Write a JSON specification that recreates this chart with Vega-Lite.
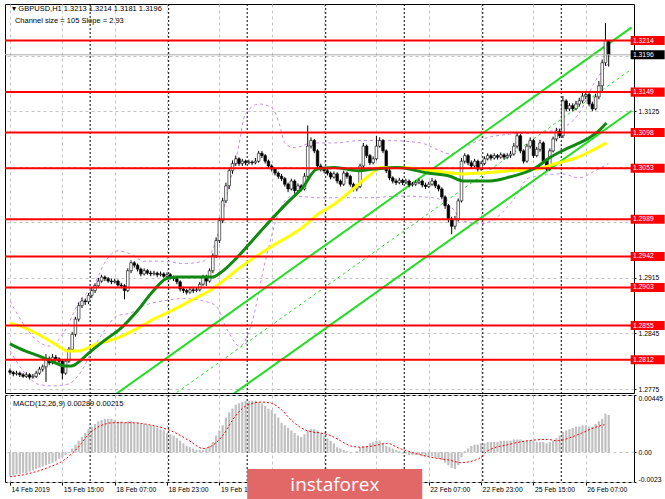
{
"$schema": "https://vega.github.io/schema/vega-lite/v6.json",
"background": "#ffffff",
"padding": {"left": 3, "top": 3, "right": 0, "bottom": 0},
"autosize": {"type": "pad"},
"spacing": 0,
"config": {
  "view": {"stroke": "#000000", "strokeWidth": 1},
  "font": "Liberation Sans",
  "axis": {"domain": false, "gridColor": "#c4c4c4", "gridDash": [3, 3], "gridWidth": 1, "tickColor": "#000000", "labelColor": "#000000", "labelFont": "Liberation Sans", "labelFontSize": 6.8, "minExtent": 0, "labelOverlap": false}
},
"datasets": {
  "one": [{}],
  "candles": [
{"i":0,"o":1.2798,"h":1.2801,"l":1.2793,"c":1.2796},
{"i":1,"o":1.2796,"h":1.2798,"l":1.2791,"c":1.2794},
{"i":2,"o":1.2794,"h":1.2798,"l":1.2792,"c":1.2795},
{"i":3,"o":1.2795,"h":1.2797,"l":1.2790,"c":1.2793},
{"i":4,"o":1.2793,"h":1.2795,"l":1.2789,"c":1.2791},
{"i":5,"o":1.2791,"h":1.2796,"l":1.2789,"c":1.2793},
{"i":6,"o":1.2793,"h":1.2795,"l":1.2787,"c":1.2790},
{"i":7,"o":1.2790,"h":1.2794,"l":1.2788,"c":1.2791},
{"i":8,"o":1.2791,"h":1.2798,"l":1.2789,"c":1.2795},
{"i":9,"o":1.2795,"h":1.2803,"l":1.2793,"c":1.2800},
{"i":10,"o":1.2800,"h":1.2806,"l":1.2797,"c":1.2803},
{"i":11,"o":1.2803,"h":1.2819,"l":1.2784,"c":1.2813},
{"i":12,"o":1.2813,"h":1.2816,"l":1.2805,"c":1.2808},
{"i":13,"o":1.2808,"h":1.2819,"l":1.2806,"c":1.2815},
{"i":14,"o":1.2815,"h":1.2818,"l":1.2810,"c":1.2813},
{"i":15,"o":1.2813,"h":1.2815,"l":1.2807,"c":1.2810},
{"i":16,"o":1.2810,"h":1.2812,"l":1.2787,"c":1.2795},
{"i":17,"o":1.2795,"h":1.2813,"l":1.2793,"c":1.2810},
{"i":18,"o":1.2810,"h":1.2828,"l":1.2808,"c":1.2825},
{"i":19,"o":1.2825,"h":1.2847,"l":1.2823,"c":1.2844},
{"i":20,"o":1.2844,"h":1.2866,"l":1.2841,"c":1.2863},
{"i":21,"o":1.2863,"h":1.2884,"l":1.2860,"c":1.2880},
{"i":22,"o":1.2880,"h":1.2890,"l":1.2877,"c":1.2886},
{"i":23,"o":1.2886,"h":1.2889,"l":1.2881,"c":1.2885},
{"i":24,"o":1.2885,"h":1.2896,"l":1.2882,"c":1.2893},
{"i":25,"o":1.2893,"h":1.2902,"l":1.2890,"c":1.2899},
{"i":26,"o":1.2899,"h":1.2908,"l":1.2896,"c":1.2905},
{"i":27,"o":1.2905,"h":1.2915,"l":1.2903,"c":1.2911},
{"i":28,"o":1.2911,"h":1.2919,"l":1.2909,"c":1.2916},
{"i":29,"o":1.2916,"h":1.2918,"l":1.2911,"c":1.2914},
{"i":30,"o":1.2914,"h":1.2916,"l":1.2909,"c":1.2911},
{"i":31,"o":1.2911,"h":1.2914,"l":1.2907,"c":1.2910},
{"i":32,"o":1.2910,"h":1.2914,"l":1.2908,"c":1.2911},
{"i":33,"o":1.2911,"h":1.2913,"l":1.2904,"c":1.2906},
{"i":34,"o":1.2906,"h":1.2909,"l":1.2902,"c":1.2905},
{"i":35,"o":1.2905,"h":1.2907,"l":1.2888,"c":1.2899},
{"i":36,"o":1.2899,"h":1.2927,"l":1.2897,"c":1.2924},
{"i":37,"o":1.2924,"h":1.2937,"l":1.2921,"c":1.2934},
{"i":38,"o":1.2934,"h":1.2936,"l":1.2928,"c":1.2931},
{"i":39,"o":1.2931,"h":1.2933,"l":1.2923,"c":1.2926},
{"i":40,"o":1.2926,"h":1.2928,"l":1.2917,"c":1.2920},
{"i":41,"o":1.2920,"h":1.2927,"l":1.2918,"c":1.2924},
{"i":42,"o":1.2924,"h":1.2926,"l":1.2919,"c":1.2921},
{"i":43,"o":1.2921,"h":1.2924,"l":1.2917,"c":1.2920},
{"i":44,"o":1.2920,"h":1.2924,"l":1.2918,"c":1.2921},
{"i":45,"o":1.2921,"h":1.2923,"l":1.2916,"c":1.2919},
{"i":46,"o":1.2919,"h":1.2923,"l":1.2917,"c":1.2920},
{"i":47,"o":1.2920,"h":1.2922,"l":1.2915,"c":1.2917},
{"i":48,"o":1.2917,"h":1.2922,"l":1.2915,"c":1.2919},
{"i":49,"o":1.2919,"h":1.2921,"l":1.2913,"c":1.2916},
{"i":50,"o":1.2916,"h":1.2918,"l":1.2911,"c":1.2914},
{"i":51,"o":1.2914,"h":1.2916,"l":1.2907,"c":1.2910},
{"i":52,"o":1.2910,"h":1.2912,"l":1.2898,"c":1.2901},
{"i":53,"o":1.2901,"h":1.2904,"l":1.2896,"c":1.2899},
{"i":54,"o":1.2899,"h":1.2901,"l":1.2894,"c":1.2897},
{"i":55,"o":1.2897,"h":1.2903,"l":1.2895,"c":1.2900},
{"i":56,"o":1.2900,"h":1.2903,"l":1.2896,"c":1.2899},
{"i":57,"o":1.2899,"h":1.2903,"l":1.2897,"c":1.2900},
{"i":58,"o":1.2900,"h":1.2910,"l":1.2898,"c":1.2907},
{"i":59,"o":1.2907,"h":1.2919,"l":1.2905,"c":1.2916},
{"i":60,"o":1.2916,"h":1.2919,"l":1.2905,"c":1.2911},
{"i":61,"o":1.2911,"h":1.2927,"l":1.2909,"c":1.2924},
{"i":62,"o":1.2924,"h":1.2946,"l":1.2921,"c":1.2943},
{"i":63,"o":1.2943,"h":1.2966,"l":1.2940,"c":1.2962},
{"i":64,"o":1.2962,"h":1.2991,"l":1.2959,"c":1.2987},
{"i":65,"o":1.2987,"h":1.3016,"l":1.2984,"c":1.3012},
{"i":66,"o":1.3012,"h":1.3035,"l":1.3009,"c":1.3031},
{"i":67,"o":1.3031,"h":1.3054,"l":1.3027,"c":1.3050},
{"i":68,"o":1.3050,"h":1.3063,"l":1.3046,"c":1.3059},
{"i":69,"o":1.3059,"h":1.3069,"l":1.3056,"c":1.3065},
{"i":70,"o":1.3065,"h":1.3067,"l":1.3056,"c":1.3059},
{"i":71,"o":1.3059,"h":1.3065,"l":1.3056,"c":1.3062},
{"i":72,"o":1.3062,"h":1.3064,"l":1.3057,"c":1.3060},
{"i":73,"o":1.3060,"h":1.3064,"l":1.3058,"c":1.3061},
{"i":74,"o":1.3061,"h":1.3063,"l":1.3057,"c":1.3060},
{"i":75,"o":1.3060,"h":1.3066,"l":1.3058,"c":1.3062},
{"i":76,"o":1.3062,"h":1.3075,"l":1.3060,"c":1.3072},
{"i":77,"o":1.3072,"h":1.3075,"l":1.3066,"c":1.3069},
{"i":78,"o":1.3069,"h":1.3071,"l":1.3059,"c":1.3062},
{"i":79,"o":1.3062,"h":1.3064,"l":1.3053,"c":1.3056},
{"i":80,"o":1.3056,"h":1.3058,"l":1.3049,"c":1.3052},
{"i":81,"o":1.3052,"h":1.3054,"l":1.3044,"c":1.3047},
{"i":82,"o":1.3047,"h":1.3049,"l":1.3040,"c":1.3043},
{"i":83,"o":1.3043,"h":1.3046,"l":1.3037,"c":1.3040},
{"i":84,"o":1.3040,"h":1.3042,"l":1.3030,"c":1.3033},
{"i":85,"o":1.3033,"h":1.3035,"l":1.3023,"c":1.3027},
{"i":86,"o":1.3027,"h":1.3040,"l":1.3025,"c":1.3037},
{"i":87,"o":1.3037,"h":1.3039,"l":1.3021,"c":1.3025},
{"i":88,"o":1.3025,"h":1.3034,"l":1.3022,"c":1.3031},
{"i":89,"o":1.3031,"h":1.3033,"l":1.3024,"c":1.3027},
{"i":90,"o":1.3027,"h":1.3047,"l":1.3025,"c":1.3043},
{"i":91,"o":1.3043,"h":1.3107,"l":1.3041,"c":1.3081},
{"i":92,"o":1.3081,"h":1.3092,"l":1.3078,"c":1.3088},
{"i":93,"o":1.3088,"h":1.3090,"l":1.3072,"c":1.3075},
{"i":94,"o":1.3075,"h":1.3077,"l":1.3053,"c":1.3056},
{"i":95,"o":1.3056,"h":1.3059,"l":1.3049,"c":1.3052},
{"i":96,"o":1.3052,"h":1.3055,"l":1.3047,"c":1.3050},
{"i":97,"o":1.3050,"h":1.3053,"l":1.3044,"c":1.3047},
{"i":98,"o":1.3047,"h":1.3049,"l":1.3039,"c":1.3042},
{"i":99,"o":1.3042,"h":1.3049,"l":1.3040,"c":1.3046},
{"i":100,"o":1.3046,"h":1.3048,"l":1.3034,"c":1.3037},
{"i":101,"o":1.3037,"h":1.3039,"l":1.3030,"c":1.3033},
{"i":102,"o":1.3033,"h":1.3050,"l":1.3031,"c":1.3047},
{"i":103,"o":1.3047,"h":1.3049,"l":1.3040,"c":1.3043},
{"i":104,"o":1.3043,"h":1.3045,"l":1.3030,"c":1.3033},
{"i":105,"o":1.3033,"h":1.3035,"l":1.3024,"c":1.3027},
{"i":106,"o":1.3027,"h":1.3033,"l":1.3024,"c":1.3030},
{"i":107,"o":1.3030,"h":1.3059,"l":1.3028,"c":1.3056},
{"i":108,"o":1.3056,"h":1.3085,"l":1.3053,"c":1.3081},
{"i":109,"o":1.3081,"h":1.3083,"l":1.3066,"c":1.3069},
{"i":110,"o":1.3069,"h":1.3071,"l":1.3057,"c":1.3060},
{"i":111,"o":1.3060,"h":1.3068,"l":1.3058,"c":1.3065},
{"i":112,"o":1.3065,"h":1.3094,"l":1.3063,"c":1.3081},
{"i":113,"o":1.3081,"h":1.3092,"l":1.3079,"c":1.3088},
{"i":114,"o":1.3088,"h":1.3090,"l":1.3072,"c":1.3075},
{"i":115,"o":1.3075,"h":1.3077,"l":1.3047,"c":1.3050},
{"i":116,"o":1.3050,"h":1.3053,"l":1.3038,"c":1.3041},
{"i":117,"o":1.3041,"h":1.3043,"l":1.3034,"c":1.3037},
{"i":118,"o":1.3037,"h":1.3040,"l":1.3032,"c":1.3035},
{"i":119,"o":1.3035,"h":1.3041,"l":1.3033,"c":1.3038},
{"i":120,"o":1.3038,"h":1.3040,"l":1.3032,"c":1.3035},
{"i":121,"o":1.3035,"h":1.3040,"l":1.3033,"c":1.3037},
{"i":122,"o":1.3037,"h":1.3039,"l":1.3029,"c":1.3032},
{"i":123,"o":1.3032,"h":1.3036,"l":1.3030,"c":1.3033},
{"i":124,"o":1.3033,"h":1.3038,"l":1.3031,"c":1.3035},
{"i":125,"o":1.3035,"h":1.3040,"l":1.3033,"c":1.3037},
{"i":126,"o":1.3037,"h":1.3039,"l":1.3029,"c":1.3032},
{"i":127,"o":1.3032,"h":1.3035,"l":1.3027,"c":1.3030},
{"i":128,"o":1.3030,"h":1.3036,"l":1.3028,"c":1.3033},
{"i":129,"o":1.3033,"h":1.3041,"l":1.3031,"c":1.3037},
{"i":130,"o":1.3037,"h":1.3039,"l":1.3028,"c":1.3031},
{"i":131,"o":1.3031,"h":1.3033,"l":1.3024,"c":1.3027},
{"i":132,"o":1.3027,"h":1.3029,"l":1.3014,"c":1.3017},
{"i":133,"o":1.3017,"h":1.3019,"l":1.3002,"c":1.3006},
{"i":134,"o":1.3006,"h":1.3008,"l":1.2985,"c":1.2989},
{"i":135,"o":1.2989,"h":1.2992,"l":1.2970,"c":1.2980},
{"i":136,"o":1.2980,"h":1.2993,"l":1.2976,"c":1.2989},
{"i":137,"o":1.2989,"h":1.3015,"l":1.2986,"c":1.3012},
{"i":138,"o":1.3012,"h":1.3066,"l":1.3010,"c":1.3062},
{"i":139,"o":1.3062,"h":1.3072,"l":1.3059,"c":1.3069},
{"i":140,"o":1.3069,"h":1.3071,"l":1.3057,"c":1.3060},
{"i":141,"o":1.3060,"h":1.3063,"l":1.3053,"c":1.3056},
{"i":142,"o":1.3056,"h":1.3065,"l":1.3054,"c":1.3062},
{"i":143,"o":1.3062,"h":1.3064,"l":1.3049,"c":1.3052},
{"i":144,"o":1.3052,"h":1.3062,"l":1.3050,"c":1.3059},
{"i":145,"o":1.3059,"h":1.3068,"l":1.3057,"c":1.3065},
{"i":146,"o":1.3065,"h":1.3072,"l":1.3063,"c":1.3069},
{"i":147,"o":1.3069,"h":1.3071,"l":1.3063,"c":1.3066},
{"i":148,"o":1.3066,"h":1.3072,"l":1.3064,"c":1.3069},
{"i":149,"o":1.3069,"h":1.3071,"l":1.3064,"c":1.3067},
{"i":150,"o":1.3067,"h":1.3073,"l":1.3065,"c":1.3070},
{"i":151,"o":1.3070,"h":1.3072,"l":1.3064,"c":1.3067},
{"i":152,"o":1.3067,"h":1.3072,"l":1.3065,"c":1.3069},
{"i":153,"o":1.3069,"h":1.3075,"l":1.3066,"c":1.3071},
{"i":154,"o":1.3071,"h":1.3085,"l":1.3069,"c":1.3081},
{"i":155,"o":1.3081,"h":1.3098,"l":1.3078,"c":1.3094},
{"i":156,"o":1.3094,"h":1.3096,"l":1.3072,"c":1.3075},
{"i":157,"o":1.3075,"h":1.3077,"l":1.3059,"c":1.3062},
{"i":158,"o":1.3062,"h":1.3084,"l":1.3060,"c":1.3081},
{"i":159,"o":1.3081,"h":1.3092,"l":1.3078,"c":1.3088},
{"i":160,"o":1.3088,"h":1.3090,"l":1.3066,"c":1.3069},
{"i":161,"o":1.3069,"h":1.3080,"l":1.3067,"c":1.3077},
{"i":162,"o":1.3077,"h":1.3089,"l":1.3074,"c":1.3085},
{"i":163,"o":1.3085,"h":1.3087,"l":1.3059,"c":1.3062},
{"i":164,"o":1.3062,"h":1.3064,"l":1.3050,"c":1.3052},
{"i":165,"o":1.3052,"h":1.3078,"l":1.3050,"c":1.3075},
{"i":166,"o":1.3075,"h":1.3093,"l":1.3073,"c":1.3090},
{"i":167,"o":1.3090,"h":1.3104,"l":1.3087,"c":1.3100},
{"i":168,"o":1.3100,"h":1.3103,"l":1.3091,"c":1.3094},
{"i":169,"o":1.3094,"h":1.3144,"l":1.3091,"c":1.3138},
{"i":170,"o":1.3138,"h":1.3140,"l":1.3125,"c":1.3128},
{"i":171,"o":1.3128,"h":1.3135,"l":1.3125,"c":1.3132},
{"i":172,"o":1.3132,"h":1.3135,"l":1.3125,"c":1.3128},
{"i":173,"o":1.3128,"h":1.3138,"l":1.3126,"c":1.3134},
{"i":174,"o":1.3134,"h":1.3142,"l":1.3131,"c":1.3138},
{"i":175,"o":1.3138,"h":1.3148,"l":1.3135,"c":1.3144},
{"i":176,"o":1.3144,"h":1.3150,"l":1.3140,"c":1.3146},
{"i":177,"o":1.3146,"h":1.3148,"l":1.3131,"c":1.3134},
{"i":178,"o":1.3134,"h":1.3137,"l":1.3125,"c":1.3128},
{"i":179,"o":1.3128,"h":1.3147,"l":1.3126,"c":1.3143},
{"i":180,"o":1.3143,"h":1.3163,"l":1.3140,"c":1.3157},
{"i":181,"o":1.3157,"h":1.3190,"l":1.3150,"c":1.3186},
{"i":182,"o":1.3186,"h":1.3236,"l":1.3182,"c":1.3214},
{"i":183,"o":1.3213,"h":1.3214,"l":1.3181,"c":1.3196}
  ],
  "maGreen": [
{"i":0,"p":1.2832},{"i":4.6,"p":1.2823},{"i":8.6,"p":1.2817},{"i":12.8,"p":1.2810},{"i":16.7,"p":1.2804},{"i":18.8,"p":1.2804},{"i":20.7,"p":1.2808},{"i":23.7,"p":1.2819},{"i":28.8,"p":1.2836},{"i":34,"p":1.2852},{"i":38.8,"p":1.2873},{"i":43.9,"p":1.2899},{"i":47.8,"p":1.2914},{"i":50.9,"p":1.2916},{"i":56.9,"p":1.2916},{"i":62,"p":1.2916},{"i":64.2,"p":1.2921},{"i":69,"p":1.2939},{"i":73.2,"p":1.2958},{"i":79.3,"p":1.2986},{"i":85.3,"p":1.3012},{"i":89.3,"p":1.3028},{"i":93.8,"p":1.3052},{"i":99.2,"p":1.3054},{"i":106.5,"p":1.3050},{"i":111.3,"p":1.3052},{"i":118.5,"p":1.3054},{"i":127.6,"p":1.3047},{"i":134.5,"p":1.3043},{"i":138.5,"p":1.3037},{"i":146.6,"p":1.3037},{"i":152.7,"p":1.3042},{"i":160.8,"p":1.3054},{"i":164.8,"p":1.3066},{"i":170.8,"p":1.3079},{"i":176.8,"p":1.3091},{"i":179.9,"p":1.3100},{"i":182.3,"p":1.3110}
  ],
  "maYellow": [
{"i":0,"p":1.2858},{"i":4.6,"p":1.2852},{"i":8.6,"p":1.2844},{"i":13.7,"p":1.2832},{"i":17.6,"p":1.2823},{"i":20.7,"p":1.2823},{"i":26.7,"p":1.2832},{"i":32.7,"p":1.2839},{"i":38.8,"p":1.2851},{"i":43.9,"p":1.2863},{"i":49,"p":1.2873},{"i":55.1,"p":1.2886},{"i":61.1,"p":1.2899},{"i":65.1,"p":1.2911},{"i":69,"p":1.2924},{"i":79.3,"p":1.2953},{"i":89.2,"p":1.2978},{"i":94.4,"p":1.2996},{"i":99.2,"p":1.3008},{"i":104.3,"p":1.3025},{"i":109.5,"p":1.3043},{"i":113.4,"p":1.3054},{"i":119.4,"p":1.3054},{"i":129.4,"p":1.3050},{"i":138.5,"p":1.3046},{"i":144.5,"p":1.3047},{"i":152.7,"p":1.3050},{"i":160.8,"p":1.3052},{"i":166.9,"p":1.3059},{"i":172.9,"p":1.3066},{"i":177.7,"p":1.3075},{"i":182.3,"p":1.3085}
  ],
  "bandUpper": [
{"i":0,"p":1.2886},{"i":4.6,"p":1.2854},{"i":8.6,"p":1.2835},{"i":12.2,"p":1.2829},{"i":16.7,"p":1.2848},{"i":21.3,"p":1.2886},{"i":25.8,"p":1.2907},{"i":28.8,"p":1.2933},{"i":32.7,"p":1.2949},{"i":37,"p":1.2945},{"i":40.9,"p":1.2936},{"i":47,"p":1.2936},{"i":53,"p":1.2933},{"i":59,"p":1.2936},{"i":62.9,"p":1.2961},{"i":66.6,"p":1.3025},{"i":69.6,"p":1.3075},{"i":72,"p":1.3122},{"i":76.2,"p":1.3134},{"i":80.2,"p":1.3129},{"i":82.3,"p":1.3109},{"i":84.1,"p":1.3084},{"i":87.1,"p":1.3079},{"i":92.3,"p":1.3085},{"i":99.2,"p":1.3085},{"i":107.4,"p":1.3088},{"i":115.5,"p":1.3088},{"i":125.5,"p":1.3085},{"i":131.5,"p":1.3075},{"i":134.5,"p":1.3071},{"i":138.5,"p":1.3079},{"i":144.5,"p":1.3090},{"i":152.7,"p":1.3096},{"i":161.7,"p":1.3098},{"i":168.7,"p":1.3104},{"i":173.9,"p":1.3122},{"i":178.9,"p":1.3163},{"i":182.9,"p":1.3185}
  ],
  "bandLower": [
{"i":0,"p":1.2823},{"i":4.6,"p":1.2795},{"i":8.6,"p":1.2781},{"i":12.8,"p":1.2779},{"i":17.6,"p":1.2781},{"i":21.9,"p":1.2798},{"i":25.8,"p":1.2829},{"i":28.8,"p":1.2848},{"i":32.7,"p":1.2867},{"i":37,"p":1.2871},{"i":40.9,"p":1.2880},{"i":47,"p":1.2886},{"i":53,"p":1.2889},{"i":59,"p":1.2886},{"i":62.9,"p":1.2880},{"i":66.6,"p":1.2848},{"i":70.2,"p":1.2829},{"i":74.1,"p":1.2861},{"i":77.7,"p":1.2930},{"i":82.3,"p":1.2999},{"i":86.2,"p":1.3018},{"i":95.3,"p":1.3016},{"i":109.5,"p":1.3016},{"i":119.4,"p":1.3018},{"i":129.4,"p":1.3016},{"i":134.5,"p":1.3006},{"i":138.5,"p":1.2987},{"i":143.6,"p":1.2983},{"i":148.7,"p":1.2991},{"i":153.6,"p":1.3012},{"i":158.7,"p":1.3041},{"i":168.7,"p":1.3046},{"i":173.9,"p":1.3041},{"i":178.9,"p":1.3050},{"i":182.9,"p":1.3059}
  ],
  "channel": [
{"k":"A","i":30,"p":1.27617},{"k":"A","i":190,"p":1.32305},
{"k":"B","i":30,"p":1.26567},{"k":"B","i":190,"p":1.31255},
{"k":"C","i":30,"p":1.27092},{"k":"C","i":190,"p":1.3178}
  ],
  "levels": [{"p":1.3214},{"p":1.3149},{"p":1.3098},{"p":1.3053},{"p":1.2989},{"p":1.2942},{"p":1.2903},{"p":1.2855},{"p":1.2812}],
  "current": [{"p":1.3196}],
  "seps": [{"i":24.5},{"i":48.5},{"i":72.5},{"i":96.5},{"i":120.5},{"i":144.5},{"i":168.5}],
  "macd": [
{"i":0,"m":-0.0018},{"i":1,"m":-0.0018},{"i":2,"m":-0.0017},{"i":3,"m":-0.0017},{"i":4,"m":-0.0016},
{"i":5,"m":-0.0016},{"i":6,"m":-0.0015},{"i":7,"m":-0.0014},{"i":8,"m":-0.0013},{"i":9,"m":-0.0012},
{"i":10,"m":-0.0011},{"i":11,"m":-0.0010},{"i":12,"m":-0.0009},{"i":13,"m":-0.0008},{"i":14,"m":-0.0007},
{"i":15,"m":-0.0005},{"i":16,"m":-0.0004},{"i":17,"m":-0.0002},{"i":18,"m":0.0000},{"i":19,"m":0.0003},
{"i":20,"m":0.0006},{"i":21,"m":0.0009},{"i":22,"m":0.0012},{"i":23,"m":0.0015},{"i":24,"m":0.0018},
{"i":25,"m":0.0020},{"i":26,"m":0.0022},{"i":27,"m":0.0024},{"i":28,"m":0.0025},{"i":29,"m":0.0026},
{"i":30,"m":0.0026},{"i":31,"m":0.0026},{"i":32,"m":0.0025},{"i":33,"m":0.0024},{"i":34,"m":0.0024},
{"i":35,"m":0.0023},{"i":36,"m":0.0024},{"i":37,"m":0.0024},{"i":38,"m":0.0023},{"i":39,"m":0.0023},
{"i":40,"m":0.0022},{"i":41,"m":0.0022},{"i":42,"m":0.0021},{"i":43,"m":0.0021},{"i":44,"m":0.0020},
{"i":45,"m":0.0019},{"i":46,"m":0.0018},{"i":47,"m":0.0017},{"i":48,"m":0.0015},{"i":49,"m":0.0014},
{"i":50,"m":0.0013},{"i":51,"m":0.0011},{"i":52,"m":0.0009},{"i":53,"m":0.0007},{"i":54,"m":0.0005},
{"i":55,"m":0.0004},{"i":56,"m":0.0003},{"i":57,"m":0.0002},{"i":58,"m":0.0002},{"i":59,"m":0.0002},
{"i":60,"m":0.0003},{"i":61,"m":0.0005},{"i":62,"m":0.0008},{"i":63,"m":0.0013},{"i":64,"m":0.0017},
{"i":65,"m":0.0021},{"i":66,"m":0.0027},{"i":67,"m":0.0031},{"i":68,"m":0.0034},{"i":69,"m":0.0037},
{"i":70,"m":0.0038},{"i":71,"m":0.0039},{"i":72,"m":0.0040},{"i":73,"m":0.0040},{"i":74,"m":0.0040},
{"i":75,"m":0.0040},{"i":76,"m":0.0039},{"i":77,"m":0.0038},{"i":78,"m":0.0036},{"i":79,"m":0.0034},
{"i":80,"m":0.0033},{"i":81,"m":0.0030},{"i":82,"m":0.0027},{"i":83,"m":0.0023},{"i":84,"m":0.0021},
{"i":85,"m":0.0019},{"i":86,"m":0.0017},{"i":87,"m":0.0015},{"i":88,"m":0.0013},{"i":89,"m":0.0012},
{"i":90,"m":0.0014},{"i":91,"m":0.0017},{"i":92,"m":0.0018},{"i":93,"m":0.0018},{"i":94,"m":0.0017},
{"i":95,"m":0.0015},{"i":96,"m":0.0013},{"i":97,"m":0.0011},{"i":98,"m":0.0009},{"i":99,"m":0.0007},
{"i":100,"m":0.0004},{"i":101,"m":0.0003},{"i":102,"m":0.0002},{"i":103,"m":0.0001},{"i":104,"m":0.0000},
{"i":105,"m":0.0000},{"i":106,"m":0.0001},{"i":107,"m":0.0004},{"i":108,"m":0.0005},{"i":109,"m":0.0005},
{"i":110,"m":0.0007},{"i":111,"m":0.0008},{"i":112,"m":0.0009},{"i":113,"m":0.0009},{"i":114,"m":0.0007},
{"i":115,"m":0.0005},{"i":116,"m":0.0004},{"i":117,"m":0.0003},{"i":118,"m":0.0002},{"i":119,"m":0.0001},
{"i":120,"m":-0.0001},{"i":121,"m":-0.0001},{"i":122,"m":-0.0002},{"i":123,"m":-0.0002},{"i":124,"m":-0.0002},
{"i":125,"m":-0.0002},{"i":126,"m":-0.0003},{"i":127,"m":-0.0003},{"i":128,"m":-0.0003},{"i":129,"m":-0.0003},
{"i":130,"m":-0.0004},{"i":131,"m":-0.0005},{"i":132,"m":-0.0006},{"i":133,"m":-0.0008},{"i":134,"m":-0.0010},
{"i":135,"m":-0.0012},{"i":136,"m":-0.0013},{"i":137,"m":-0.0010},{"i":138,"m":-0.0004},{"i":139,"m":0.0001},
{"i":140,"m":0.0003},{"i":141,"m":0.0005},{"i":142,"m":0.0006},{"i":143,"m":0.0006},{"i":144,"m":0.0007},
{"i":145,"m":0.0007},{"i":146,"m":0.0008},{"i":147,"m":0.0008},{"i":148,"m":0.0008},{"i":149,"m":0.0008},
{"i":150,"m":0.0009},{"i":151,"m":0.0009},{"i":152,"m":0.0009},{"i":153,"m":0.0009},{"i":154,"m":0.0010},
{"i":155,"m":0.0010},{"i":156,"m":0.0010},{"i":157,"m":0.0009},{"i":158,"m":0.0009},{"i":159,"m":0.0009},
{"i":160,"m":0.0009},{"i":161,"m":0.0008},{"i":162,"m":0.0008},{"i":163,"m":0.0008},{"i":164,"m":0.0007},
{"i":165,"m":0.0008},{"i":166,"m":0.0009},{"i":167,"m":0.0011},{"i":168,"m":0.0013},{"i":169,"m":0.0016},
{"i":170,"m":0.0017},{"i":171,"m":0.0018},{"i":172,"m":0.0019},{"i":173,"m":0.0020},{"i":174,"m":0.0020},
{"i":175,"m":0.0021},{"i":176,"m":0.0021},{"i":177,"m":0.0020},{"i":178,"m":0.0020},{"i":179,"m":0.0022},
{"i":180,"m":0.0024},{"i":181,"m":0.0026},{"i":182,"m":0.0030},{"i":183,"m":0.0029}
  ],
  "signal": [
{"i":0,"s":-0.0019},{"i":4.8,"s":-0.0017},{"i":11.4,"s":-0.0012},{"i":16.5,"s":-0.0006},{"i":20.5,"s":0.0003},{"i":24.4,"s":0.0015},{"i":28,"s":0.0021},{"i":31.9,"s":0.0023},{"i":37,"s":0.0023},{"i":43.3,"s":0.0021},{"i":49.9,"s":0.0016},{"i":54.8,"s":0.0009},{"i":59,"s":0.0003},{"i":65,"s":0.0013},{"i":68,"s":0.0025},{"i":71,"s":0.0034},{"i":74,"s":0.0038},{"i":77,"s":0.0039},{"i":80,"s":0.0038},{"i":83,"s":0.0033},{"i":86,"s":0.0025},{"i":89,"s":0.0019},{"i":92,"s":0.0016},{"i":95,"s":0.0015},{"i":98,"s":0.0013},{"i":101,"s":0.0009},{"i":104.1,"s":0.0005},{"i":107.1,"s":0.0004},{"i":111,"s":0.0005},{"i":115.2,"s":0.0007},{"i":119.1,"s":0.0003},{"i":124.2,"s":-0.0001},{"i":129,"s":-0.0004},{"i":134.2,"s":-0.0006},{"i":137.8,"s":-0.0008},{"i":143.2,"s":-0.0005},{"i":146.2,"s":0.00015},{"i":152.2,"s":0.0006},{"i":158.2,"s":0.0009},{"i":164.3,"s":0.0010},{"i":167.3,"s":0.0009},{"i":171.8,"s":0.0012},{"i":174.8,"s":0.0015},{"i":178.4,"s":0.0019},{"i":181.7,"s":0.00215}
  ]
},
"vconcat": [
{
  "width": 629,
  "height": 389,
  "layer": [
    {"data": {"name": "seps"}, "mark": {"type": "rule", "color": "#000000", "strokeWidth": 1, "strokeDash": [2, 2]},
     "encoding": {"x": {"field": "i", "type": "quantitative", "title": null, "scale": {"domain": [0, 189.2], "nice": false, "zero": false},
       "axis": {"values": [0,8,16,24,32,40,48,56,64,72,80,88,96,104,112,120,128,136,144,152,160,168,176,184], "labels": false, "ticks": false, "grid": true, "domain": false, "title": null, "maxExtent": 0, "minExtent": 0, "labelPadding": 0}}}},
    {"data": {"name": "channel"}, "transform": [{"filter": "datum.k == 'C'"}], "mark": {"type": "line", "color": "#33dd33", "strokeWidth": 1, "strokeDash": [3, 3], "clip": true},
     "encoding": {"x": {"field": "i", "type": "quantitative", "title": null, "scale": {"domain": [0, 189.2], "nice": false, "zero": false}},
       "y": {"field": "p", "type": "quantitative", "title": null, "scale": {"domain": [1.277, 1.326], "nice": false, "zero": false}}}},
    {"data": {"name": "bandUpper"}, "mark": {"type": "line", "color": "#c88ee8", "strokeWidth": 1, "strokeDash": [3, 3], "interpolate": "monotone", "clip": true},
     "encoding": {"x": {"field": "i", "type": "quantitative", "title": null, "scale": {"domain": [0, 189.2], "nice": false, "zero": false}},
       "y": {"field": "p", "type": "quantitative", "title": null, "scale": {"domain": [1.277, 1.326], "nice": false, "zero": false}}}},
    {"data": {"name": "bandLower"}, "mark": {"type": "line", "color": "#c88ee8", "strokeWidth": 1, "strokeDash": [3, 3], "interpolate": "monotone", "clip": true},
     "encoding": {"x": {"field": "i", "type": "quantitative", "title": null, "scale": {"domain": [0, 189.2], "nice": false, "zero": false}},
       "y": {"field": "p", "type": "quantitative", "title": null, "scale": {"domain": [1.277, 1.326], "nice": false, "zero": false}}}},
    {"data": {"name": "channel"}, "transform": [{"filter": "datum.k != 'C'"}], "mark": {"type": "line", "color": "#22dd22", "strokeWidth": 2, "clip": true},
     "encoding": {"x": {"field": "i", "type": "quantitative", "title": null, "scale": {"domain": [0, 189.2], "nice": false, "zero": false}},
       "y": {"field": "p", "type": "quantitative", "title": null, "scale": {"domain": [1.277, 1.326], "nice": false, "zero": false}},
       "detail": {"field": "k", "type": "nominal"}}},
    {"data": {"name": "candles"}, "mark": {"type": "rule", "color": "#000000", "strokeWidth": 1, "clip": true},
     "encoding": {"x": {"field": "i", "type": "quantitative", "title": null, "scale": {"domain": [0, 189.2], "nice": false, "zero": false}},
       "y": {"field": "l", "type": "quantitative", "title": null, "scale": {"domain": [1.277, 1.326], "nice": false, "zero": false},
         "axis": {"orient": "right", "values": [1.2775,1.281,1.2845,1.288,1.2915,1.295,1.2985,1.302,1.3055,1.309,1.3125,1.316,1.3195,1.323], "format": ".4f", "grid": true, "tickSize": 2, "labelPadding": 2, "domain": false, "title": null,
           "labelExpr": "(abs(datum.value - 1.3195) < 0.0001 || abs(datum.value - 1.3055) < 0.0001 || abs(datum.value - 1.2985) < 0.0001 || abs(datum.value - 1.281) < 0.0001) ? '' : format(datum.value, '.4f')"}},
       "y2": {"field": "h"}}},
    {"data": {"name": "candles"}, "mark": {"type": "bar", "size": 2.6, "stroke": "#000000", "strokeWidth": 0.6, "clip": true},
     "encoding": {"x": {"field": "i", "type": "quantitative", "title": null, "scale": {"domain": [0, 189.2], "nice": false, "zero": false}},
       "y": {"field": "o", "type": "quantitative", "title": null, "scale": {"domain": [1.277, 1.326], "nice": false, "zero": false}},
       "y2": {"field": "c"},
       "fill": {"condition": {"test": "datum.c >= datum.o", "value": "#ffffff"}, "value": "#000000"}}},
    {"data": {"name": "maYellow"}, "mark": {"type": "line", "color": "#ffff00", "strokeWidth": 3, "interpolate": "monotone", "clip": true},
     "encoding": {"x": {"field": "i", "type": "quantitative", "title": null, "scale": {"domain": [0, 189.2], "nice": false, "zero": false}},
       "y": {"field": "p", "type": "quantitative", "title": null, "scale": {"domain": [1.277, 1.326], "nice": false, "zero": false}}}},
    {"data": {"name": "maGreen"}, "mark": {"type": "line", "color": "#108a10", "strokeWidth": 3, "interpolate": "monotone", "clip": true},
     "encoding": {"x": {"field": "i", "type": "quantitative", "title": null, "scale": {"domain": [0, 189.2], "nice": false, "zero": false}},
       "y": {"field": "p", "type": "quantitative", "title": null, "scale": {"domain": [1.277, 1.326], "nice": false, "zero": false}}}},
    {"data": {"name": "levels"}, "mark": {"type": "rule", "color": "#ff0000", "strokeWidth": 2},
     "encoding": {"y": {"field": "p", "type": "quantitative", "title": null, "scale": {"domain": [1.277, 1.326], "nice": false, "zero": false}}}},
    {"data": {"name": "current"}, "mark": {"type": "rule", "color": "#a8a8a8", "strokeWidth": 1},
     "encoding": {"y": {"field": "p", "type": "quantitative", "title": null, "scale": {"domain": [1.277, 1.326], "nice": false, "zero": false}}}},
    {"data": {"name": "levels"}, "mark": {"type": "point", "shape": "M-1,-0.265L1,-0.265L1,0.265L-1,0.265Z", "size": 1156, "filled": true, "color": "#ff0000", "opacity": 1, "strokeWidth": 0, "clip": false},
     "encoding": {"x": {"datum": 194.9, "type": "quantitative", "scale": {"domain": [0, 189.2], "nice": false, "zero": false}},
       "y": {"field": "p", "type": "quantitative", "title": null, "scale": {"domain": [1.277, 1.326], "nice": false, "zero": false}}}},
    {"data": {"name": "current"}, "mark": {"type": "point", "shape": "M-1,-0.265L1,-0.265L1,0.265L-1,0.265Z", "size": 1156, "filled": true, "color": "#000000", "opacity": 1, "strokeWidth": 0, "clip": false},
     "encoding": {"x": {"datum": 194.9, "type": "quantitative", "scale": {"domain": [0, 189.2], "nice": false, "zero": false}},
       "y": {"field": "p", "type": "quantitative", "title": null, "scale": {"domain": [1.277, 1.326], "nice": false, "zero": false}}}},
    {"data": {"name": "levels"}, "mark": {"type": "text", "align": "left", "baseline": "middle", "color": "#ffffff", "fontSize": 6.8, "font": "Liberation Sans", "clip": false},
     "encoding": {"x": {"datum": 190.4, "type": "quantitative", "scale": {"domain": [0, 189.2], "nice": false, "zero": false}},
       "y": {"field": "p", "type": "quantitative", "title": null, "scale": {"domain": [1.277, 1.326], "nice": false, "zero": false}},
       "text": {"field": "p", "type": "quantitative", "format": ".4f"}}},
    {"data": {"name": "current"}, "mark": {"type": "text", "align": "left", "baseline": "middle", "color": "#ffffff", "fontSize": 6.8, "font": "Liberation Sans", "clip": false},
     "encoding": {"x": {"datum": 190.4, "type": "quantitative", "scale": {"domain": [0, 189.2], "nice": false, "zero": false}},
       "y": {"field": "p", "type": "quantitative", "title": null, "scale": {"domain": [1.277, 1.326], "nice": false, "zero": false}},
       "text": {"field": "p", "type": "quantitative", "format": ".4f"}}},
    {"data": {"name": "one"}, "mark": {"type": "text", "align": "left", "baseline": "middle", "color": "#000000", "fontSize": 7.5, "font": "Liberation Sans", "text": "▾ GBPUSD,H1  1.3213 1.3214 1.3181 1.3196"},
     "encoding": {"x": {"datum": 0.7, "type": "quantitative", "scale": {"domain": [0, 189.2], "nice": false, "zero": false}},
       "y": {"datum": 1.32537, "type": "quantitative", "scale": {"domain": [1.277, 1.326], "nice": false, "zero": false}}}},
    {"data": {"name": "one"}, "mark": {"type": "text", "align": "left", "baseline": "middle", "color": "#000000", "fontSize": 7.5, "font": "Liberation Sans", "text": "Channel size = 105 Slope = 2.93"},
     "encoding": {"x": {"datum": 1.5, "type": "quantitative", "scale": {"domain": [0, 189.2], "nice": false, "zero": false}},
       "y": {"datum": 1.32386, "type": "quantitative", "scale": {"domain": [1.277, 1.326], "nice": false, "zero": false}}}}
  ]
},
{
  "width": 629,
  "height": 87,
  "layer": [
    {"data": {"name": "seps"}, "mark": {"type": "rule", "color": "#000000", "strokeWidth": 1, "strokeDash": [2, 2]},
     "encoding": {"x": {"field": "i", "type": "quantitative", "title": null, "scale": {"domain": [0, 189.2], "nice": false, "zero": false},
       "axis": {"values": [0,8,16,24,32,40,48,56,64,72,80,88,96,104,112,120,128,136,144,152,160,168,176,184], "grid": true, "domain": false, "title": null,
         "labelAlign": "left", "labelOffset": 1, "labelPadding": 1, "tickSize": 3,
         "tickOpacity": {"condition": {"test": "datum.value % 16 === 0", "value": 1}, "value": 0},
         "labelExpr": "datum.value % 16 === 0 ? ['14 Feb 2019','15 Feb 15:00','18 Feb 07:00','18 Feb 23:00','19 Feb 15:00','','','','22 Feb 07:00','22 Feb 23:00','25 Feb 15:00','26 Feb 07:00'][datum.value / 16] : ''"}}}},
    {"data": {"name": "macd"}, "mark": {"type": "bar", "size": 2.2, "color": "#c0c0c0", "clip": true},
     "encoding": {"x": {"field": "i", "type": "quantitative", "title": null, "scale": {"domain": [0, 189.2], "nice": false, "zero": false}},
       "y": {"field": "m", "type": "quantitative", "title": null, "scale": {"domain": [-0.0023, 0.00445], "nice": false, "zero": false},
         "axis": {"orient": "right", "values": [-0.0023, 0, 0.00445], "grid": true, "tickSize": 2, "labelPadding": 2, "domain": false, "title": null, "labelFlush": true,
           "labelExpr": "datum.value > 0.001 ? '0.00445' : (datum.value < -0.001 ? '-0.0023' : '0.00')"}},
       "y2": {"datum": 0}}},
    {"data": {"name": "signal"}, "mark": {"type": "line", "color": "#ff0000", "strokeWidth": 1, "strokeDash": [2, 2], "interpolate": "monotone", "clip": true},
     "encoding": {"x": {"field": "i", "type": "quantitative", "title": null, "scale": {"domain": [0, 189.2], "nice": false, "zero": false}},
       "y": {"field": "s", "type": "quantitative", "title": null, "scale": {"domain": [-0.0023, 0.00445], "nice": false, "zero": false}}}},
    {"data": {"name": "one"}, "mark": {"type": "text", "align": "left", "baseline": "middle", "color": "#000000", "fontSize": 7.5, "font": "Liberation Sans", "text": "MACD(12,26,9) 0.00289 0.00215"},
     "encoding": {"x": {"datum": 0.9, "type": "quantitative", "scale": {"domain": [0, 189.2], "nice": false, "zero": false}},
       "y": {"datum": 0.00375, "type": "quantitative", "scale": {"domain": [-0.0023, 0.00445], "nice": false, "zero": false}}}},
    {"data": {"name": "one"}, "mark": {"type": "rect", "color": "#e26868", "clip": false},
     "encoding": {"x": {"datum": 72.5, "type": "quantitative", "scale": {"domain": [0, 189.2], "nice": false, "zero": false}},
       "x2": {"datum": 126},
       "y": {"datum": -0.00129, "type": "quantitative", "scale": {"domain": [-0.0023, 0.00445], "nice": false, "zero": false}},
       "y2": {"datum": -0.00365}}},
    {"data": {"name": "one"}, "mark": {"type": "text", "align": "center", "baseline": "middle", "color": "#ffffff", "fontSize": 19, "font": "Open Sans", "text": "instaforex", "clip": false},
     "encoding": {"x": {"datum": 99.3, "type": "quantitative", "scale": {"domain": [0, 189.2], "nice": false, "zero": false}},
       "y": {"datum": -0.0025, "type": "quantitative", "scale": {"domain": [-0.0023, 0.00445], "nice": false, "zero": false}}}}
  ]
}
]
}
